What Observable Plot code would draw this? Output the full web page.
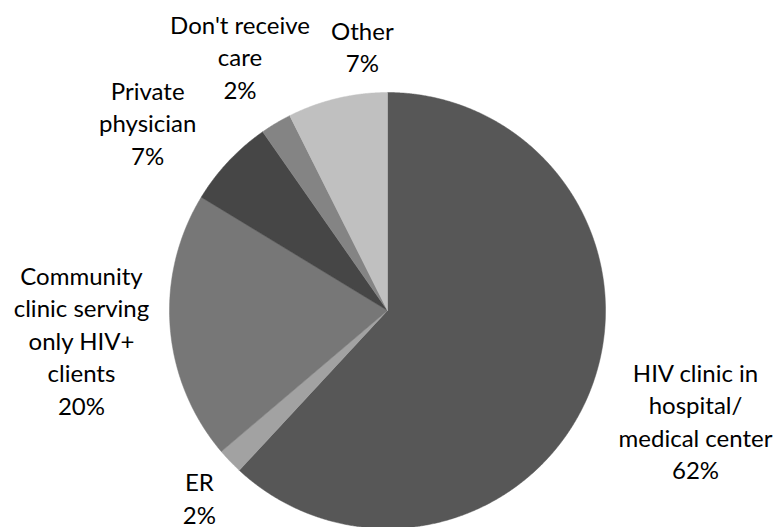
<!DOCTYPE html>
<html>
<head>
<meta charset="utf-8">
<script src="https://cdn.jsdelivr.net/npm/d3@7"></script>
<script src="https://cdn.jsdelivr.net/npm/@observablehq/plot@0.6"></script>
<style>
  html, body { margin: 0; padding: 0; background: #fff; }
</style>
</head>
<body>
<div id="chart"></div>
<script>
// Data (clockwise from 12 o'clock)
const categories = [
  "HIV clinic in\nhospital/\nmedical center",
  "ER",
  "Community\nclinic serving\nonly HIV+\nclients",
  "Private\nphysician",
  "Don't receive\ncare",
  "Other"
];
const shares = [61.9, 1.9, 19.9, 6.6, 2.3, 7.4];
const percentLabels = ["62%", "2%", "20%", "7%", "2%", "7%"];
const sliceColors = ["#575757", "#a2a2a2", "#777777", "#464646", "#848484", "#c0c0c0"];

// Layout constants (label placement: radial distance in radii, angle shift in degrees)
const labelDist = [1.5, 1.215, 1.41, 1.4, 1.35, 1.22];
const labelShift = [-1.8, -1.0, -0.9, -5, 0.7, 7.9];

const W = 778, H = 527, cx = 387, cy = 310, R = 218;

const total = d3.sum(shares);
let acc = 0;
const slices = shares.map((v, i) => {
  const a0 = acc / total * 2 * Math.PI;
  acc += v;
  const a1 = acc / total * 2 * Math.PI;
  return {i, a0, a1, name: categories[i]};
});

// polygon points in data space (unit radius)
const pts = [];
for (const s of slices) {
  pts.push({k: s.i, x: 0, y: 0});
  const n = Math.max(4, Math.ceil((s.a1 - s.a0) / 0.005));
  for (let j = 0; j <= n; j++) {
    const a = s.a0 + (s.a1 - s.a0) * j / n;
    pts.push({k: s.i, x: Math.sin(a), y: Math.cos(a)});
  }
  pts.push({k: s.i, x: 0, y: 0});
}

const labels = slices.map(s => {
  const a = (s.a0 + s.a1) / 2 + labelShift[s.i] * Math.PI / 180;
  const d = labelDist[s.i];
  return {x: d * Math.sin(a), y: d * Math.cos(a), text: categories[s.i] + "\n" + percentLabels[s.i]};
});

const chart = Plot.plot({
  width: W,
  height: H,
  margin: 0,
  x: {domain: [-cx / R, (W - cx) / R], axis: null},
  y: {domain: [-(H - cy) / R, cy / R], axis: null},
  color: {domain: d3.range(shares.length), range: sliceColors},
  marks: [
    Plot.line(pts, {x: "x", y: "y", z: "k", fill: "k", stroke: "k", strokeWidth: 0.5, curve: "linear"}),
    Plot.text(labels, {
      x: "x", y: "y", text: "text",
      fontFamily: "Lato, 'Open Sans', sans-serif",
      fontSize: 24,
      lineHeight: 1.35,
      fill: "#000",
      textAnchor: "middle",
      lineAnchor: "middle"
    })
  ]
});
document.getElementById("chart").appendChild(chart);
</script>
</body>
</html>
